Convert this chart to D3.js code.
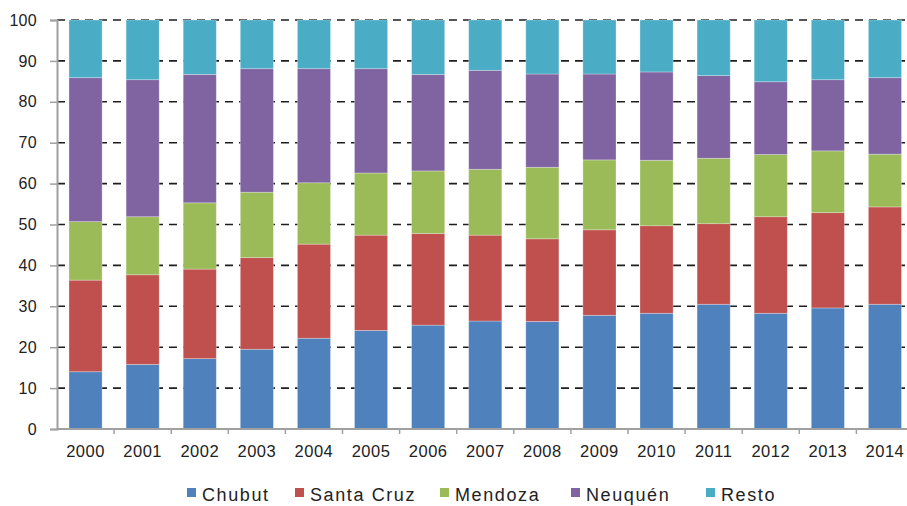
<!DOCTYPE html>
<html>
<head>
<meta charset="utf-8">
<script src="https://cdn.jsdelivr.net/npm/d3@7"></script>
<style>
	body { margin: 0; background: #fff; }
	svg { display: block; font-family: 'Liberation Sans', Arial, sans-serif; }
</style>
</head>
<body>
<div id="chart"></div>
<script>
var years = ['2000','2001','2002','2003','2004','2005','2006','2007','2008','2009','2010','2011','2012','2013','2014'];
var provinces = ['Chubut', 'Santa Cruz', 'Mendoza', 'Neuquén', 'Resto'];
var colors = ['#4f81bd', '#c0504d', '#9bbb59', '#8064a2', '#4bacc6'];

// share of each province, in %
var chubut    = [14.0, 15.8, 17.2, 19.5, 22.2, 24.1, 25.4, 26.4, 26.3, 27.8, 28.3, 30.5, 28.3, 29.6, 30.5];
var santacruz = [22.4, 21.9, 21.9, 22.4, 23.0, 23.3, 22.4, 21.0, 20.2, 20.9, 21.4, 19.7, 23.6, 23.3, 23.8];
var mendoza   = [14.3, 14.2, 16.2, 16.0, 15.0, 15.2, 15.3, 16.1, 17.5, 17.1, 16.0, 16.0, 15.2, 15.1, 12.9];
var neuquen   = [35.2, 33.5, 31.4, 30.2, 27.9, 25.5, 23.6, 24.2, 22.8, 21.0, 21.6, 20.2, 17.8, 17.4, 18.7];
var resto     = [14.1, 14.6, 13.3, 11.9, 11.9, 11.9, 13.3, 12.3, 13.2, 13.2, 12.7, 13.6, 15.1, 14.6, 14.1];

var yTicks = [0, 10, 20, 30, 40, 50, 60, 70, 80, 90, 100];

var width = 907;
var height = 506;
var x0 = 57, yBottom = 429, yTop = 20;

var series = [chubut, santacruz, mendoza, neuquen, resto];
var table = years.map(function(y, i){
	var row = { year: y };
	provinces.forEach(function(p, k){ row[p] = series[k][i]; });
	return row;
});

var stack = d3.stack().keys(provinces)(table);

var x = d3
	.scaleBand()
	.domain(years)
	.range([x0, x0 + 15 * 57.1])
	.paddingInner(0.42)
	.paddingOuter(0.21);

var y = d3
	.scaleLinear()
	.domain([0, 100])
	.range([yBottom, yTop]);

var color = d3
	.scaleOrdinal()
	.domain(provinces)
	.range(colors);

var svg = d3
	.select('#chart')
	.append('svg')
	.attr('width', width)
	.attr('height', height);

// GRID LINES
svg
	.append('g')
	.selectAll('line')
	.data(yTicks.filter(function(d){ return d > 0; }))
	.enter()
	.append('line')
	.attr('x1', x0)
	.attr('x2', width)
	.attr('y1', function(d){ return y(d); })
	.attr('y2', function(d){ return y(d); })
	.attr('stroke', '#1e1e1e')
	.attr('stroke-width', 1.6)
	.attr('stroke-dasharray', '8,6');

// BARS
svg
	.append('g')
	.selectAll('g')
	.data(stack)
	.enter()
	.append('g')
	.attr('fill', function(d){ return color(d.key); })
	.selectAll('rect')
	.data(function(d){ return d; })
	.enter()
	.append('rect')
	.attr('x', function(d){ return x(d.data.year); })
	.attr('y', function(d){ return y(d[1]); })
	.attr('width', x.bandwidth())
	.attr('height', function(d){ return y(d[0]) - y(d[1]); })
	.attr('stroke', 'rgba(255,255,255,0.35)')
	.attr('stroke-width', 0.8);

// Y AXIS
var yAxis = svg
	.append('g')
	.attr('transform', 'translate(' + x0 + ',0)')
	.call(d3.axisLeft(y).tickValues(yTicks).tickSize(7).tickPadding(13));

yAxis.select('.domain').attr('stroke', '#a0a0a0').attr('stroke-width', 2);
yAxis.selectAll('.tick line').attr('stroke', '#a0a0a0').attr('stroke-width', 1.5);
yAxis
	.selectAll('.tick text')
	.attr('fill', '#222')
	.style('font-size', '16px')
	.style('letter-spacing', '0.3px');

// X AXIS
var xAxis = svg
	.append('g')
	.attr('transform', 'translate(0,' + yBottom + ')');

xAxis
	.append('line')
	.attr('x1', x0)
	.attr('x2', width)
	.attr('stroke', '#a0a0a0')
	.attr('stroke-width', 2);

xAxis
	.selectAll('.xtick')
	.data(years.slice(1))
	.enter()
	.append('line')
	.attr('class', 'xtick')
	.attr('x1', function(d){ return x(d) - x.step() * x.paddingInner() / 2; })
	.attr('x2', function(d){ return x(d) - x.step() * x.paddingInner() / 2; })
	.attr('y1', 0)
	.attr('y2', 5)
	.attr('stroke', '#a0a0a0')
	.attr('stroke-width', 1.5);

xAxis
	.selectAll('.xlabel')
	.data(years)
	.enter()
	.append('text')
	.attr('class', 'xlabel')
	.attr('x', function(d){ return x(d) + x.bandwidth() / 2; })
	.attr('y', 28)
	.attr('text-anchor', 'middle')
	.attr('fill', '#222')
	.style('font-size', '16.5px')
	.style('letter-spacing', '0.5px')
	.text(function(d){ return d; });

// LEGEND
var legendX = [187, 295, 440, 571, 706];

var legend = svg
	.append('g')
	.selectAll('g')
	.data(provinces)
	.enter()
	.append('g')
	.attr('transform', function(d, i){ return 'translate(' + legendX[i] + ',488)'; });

legend
	.append('rect')
	.attr('width', 9)
	.attr('height', 9)
	.attr('fill', function(d){ return color(d); });

legend
	.append('text')
	.attr('x', 15)
	.attr('y', 13)
	.attr('fill', '#222')
	.style('font-size', '18px')
	.style('letter-spacing', '1.6px')
	.text(function(d){ return d; });
</script>
</body>
</html>
